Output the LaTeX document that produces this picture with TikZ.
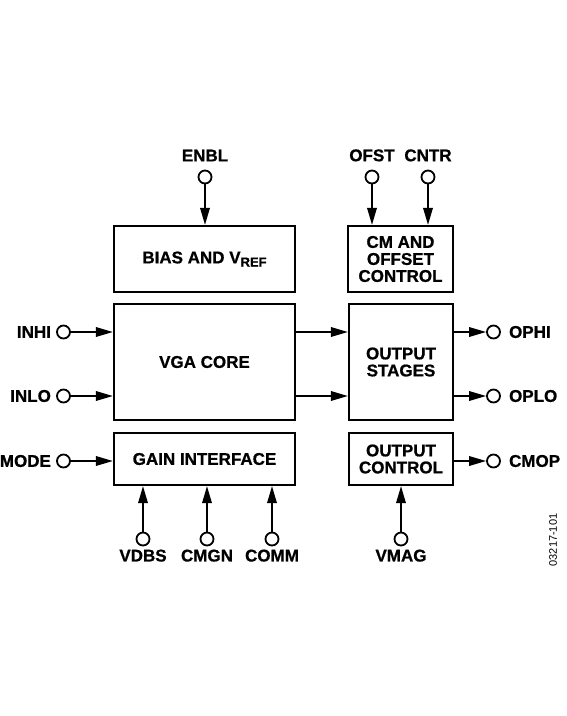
\documentclass[tikz,border=0pt]{standalone}
\usepackage{fontspec}
\setmainfont{Liberation Sans}[BoldFeatures={FakeBold=0.8}]
\usetikzlibrary{positioning,arrows.meta}

\tikzset{
  block/.style={draw, rectangle, line width=2.2pt, align=center, inner sep=0pt},
  pin/.style={draw, circle, line width=1.8pt, minimum size=13pt, inner sep=0pt},
  sig/.style={-{Triangle[length=17pt,width=9.5pt]}, line width=1.8pt},
  lbl/.style={inner sep=0pt},
}

\begin{document}
\begin{tikzpicture}[x=1pt, y=-1pt, font=\bfseries\fontsize{17}{17}\selectfont]
  \useasboundingbox (0,0) rectangle (566,716);

  \node (bias) [block, minimum width=181pt, minimum height=66pt] at (204.5,259)
    {BIAS AND V\raisebox{-0.35ex}{\fontsize{13}{13}\selectfont REF}};
  \node (cmoff) [block, minimum width=105pt, minimum height=66pt] at (400.5,259)
    {CM AND\\OFFSET\\CONTROL};
  \node (vga) [block, minimum width=181pt, minimum height=116pt] at (204.5,362) {VGA CORE};
  \node (gain) [block, minimum width=181pt, minimum height=52pt] at (204.5,459) {GAIN INTERFACE};
  \node (outst) [block, minimum width=104pt, minimum height=116pt] at (401,362) {OUTPUT\\STAGES};
  \node (outctl) [block, minimum width=104pt, minimum height=52pt] at (401,459) {OUTPUT\\CONTROL};

  \node (enbl) [pin] at (205,177) {};
  \node (ofst) [pin] at (372,177) {};
  \node (cntr) [pin] at (428,177) {};
  \node (inhi) [pin] at (63.5,332) {};
  \node (inlo) [pin] at (63.5,396) {};
  \node (mode) [pin] at (63.5,461) {};
  \node (ophi) [pin] at (493.5,332) {};
  \node (oplo) [pin] at (493.5,396) {};
  \node (cmop) [pin] at (493.5,461) {};
  \node (vdbs) [pin] at (143,539) {};
  \node (cmgn) [pin] at (207,539) {};
  \node (comm) [pin] at (272,539) {};
  \node (vmag) [pin] at (401,539) {};

  \node (enbltxt) [lbl, above=8pt of enbl] {ENBL};
  \node (ofsttxt) [lbl, above=8pt of ofst] {OFST};
  \node (cntrtxt) [lbl, above=8pt of cntr] {CNTR};
  \node (inhitxt) [lbl, left=5pt of inhi] {INHI};
  \node (inlotxt) [lbl, left=5pt of inlo] {INLO};
  \node (modetxt) [lbl, left=5pt of mode] {MODE};
  \node (ophitxt) [lbl, right=8pt of ophi] {OPHI};
  \node (oplotxt) [lbl, right=8pt of oplo] {OPLO};
  \node (cmoptxt) [lbl, right=8pt of cmop] {CMOP};
  \node (vdbstxt) [lbl, below=3pt of vdbs] {VDBS};
  \node (cmgntxt) [lbl, below=3pt of cmgn] {CMGN};
  \node (commtxt) [lbl, below=3pt of comm] {COMM};
  \node (vmagtxt) [lbl, below=3pt of vmag] {VMAG};

  \draw[sig] (enbl) -- (bias.north -| enbl);
  \draw[sig] (ofst) -- (cmoff.north -| ofst);
  \draw[sig] (cntr) -- (cmoff.north -| cntr);
  \draw[sig] (inhi) -- (vga.west |- inhi);
  \draw[sig] (inlo) -- (vga.west |- inlo);
  \draw[sig] (mode) -- (gain.west |- mode);
  \draw[sig] (vga.east |- inhi) -- (outst.west |- inhi);
  \draw[sig] (vga.east |- inlo) -- (outst.west |- inlo);
  \draw[sig] (outst.east |- ophi) -- (ophi);
  \draw[sig] (outst.east |- oplo) -- (oplo);
  \draw[sig] (outctl.east |- cmop) -- (cmop);
  \draw[sig] (vdbs) -- (gain.south -| vdbs);
  \draw[sig] (cmgn) -- (gain.south -| cmgn);
  \draw[sig] (comm) -- (gain.south -| comm);
  \draw[sig] (vmag) -- (outctl.south -| vmag);

  \node (figid) [rotate=90, font=\fontsize{11}{11}\selectfont] at (553,540) {03217-101};
\end{tikzpicture}
\end{document}
